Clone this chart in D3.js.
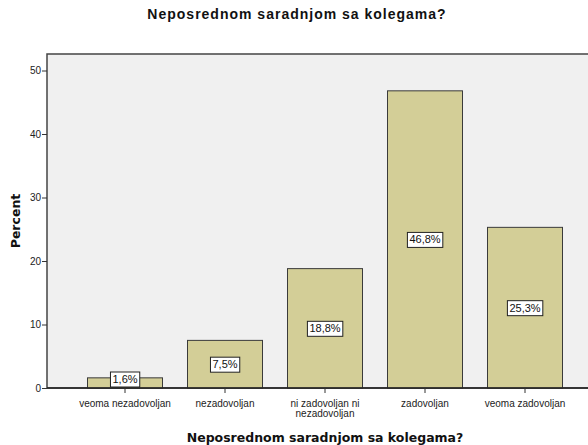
<!DOCTYPE html>
<html lang="sr">
  <head>
    <meta charset="UTF-8" />
    <title>Neposrednom saradnjom sa kolegama?</title>
    <script src="https://d3js.org/d3.v7.min.js"></script>
    <style>
      body {
        margin: 0;
        background: #fff;
        font-family: Arial, "Liberation Sans", sans-serif;
      }
      svg {
        display: block;
      }
    </style>
  </head>
  <body>
    <svg width="588" height="445"></svg>
    <script>
      const categories = [
        ["veoma nezadovoljan"],
        ["nezadovoljan"],
        ["ni zadovoljan ni", "nezadovoljan"],
        ["zadovoljan"],
        ["veoma zadovoljan"],
      ];
      const percents = [1.6, 7.5, 18.8, 46.8, 25.3];
      const yTicks = [0, 10, 20, 30, 40, 50];

      const data = categories.map((c, i) => ({ key: i, lines: c, value: percents[i] }));

      const svg = d3.select("svg");

      // plot frame; right side runs past the window edge like the original
      const plotLeft = 47,
        plotRight = 603,
        plotTop = 54,
        plotBottom = 388;

      const x = d3
        .scaleBand()
        .domain(data.map((d) => d.key))
        .range([plotLeft + 28, plotRight - 28])
        .paddingInner(0.25)
        .paddingOuter(0.125);

      const y = d3.scaleLinear().domain([0, 52.6]).range([plotBottom, plotTop]);

      // background
      svg
        .append("rect")
        .attr("x", plotLeft)
        .attr("y", plotTop)
        .attr("width", plotRight - plotLeft)
        .attr("height", plotBottom - plotTop)
        .attr("fill", "#f0f0f0")
        .attr("stroke", "#444")
        .attr("stroke-width", 1.5);

      // bars
      svg
        .selectAll(".bar")
        .data(data)
        .enter()
        .append("rect")
        .attr("class", "bar")
        .attr("x", (d) => x(d.key))
        .attr("y", (d) => y(d.value))
        .attr("width", x.bandwidth())
        .attr("height", (d) => plotBottom - y(d.value))
        .attr("fill", "#d3ce97")
        .attr("stroke", "#3a3a3a")
        .attr("stroke-width", 1);

      // value labels
      const fmt = (v) => v.toFixed(1).replace(".", ",") + "%";
      const lab = svg
        .selectAll(".lab")
        .data(data)
        .enter()
        .append("g")
        .attr("class", "lab")
        .attr("transform", (d) => {
          let cy = (y(d.value) + plotBottom) / 2;
          cy = Math.min(cy, plotBottom - 9);
          return `translate(${x(d.key) + x.bandwidth() / 2},${cy})`;
        });

      lab
        .append("text")
        .attr("text-anchor", "middle")
        .attr("dy", "0.36em")
        .attr("font-size", 11)
        .attr("fill", "#111")
        .text((d) => fmt(d.value));

      lab.each(function () {
        const g = d3.select(this);
        const bb = g.select("text").node().getBBox();
        g.insert("rect", "text")
          .attr("x", bb.x - 2)
          .attr("y", -7)
          .attr("width", bb.width + 4)
          .attr("height", 15)
          .attr("fill", "#fff")
          .attr("stroke", "#222")
          .attr("stroke-width", 1);
      });

      // y axis
      const yAxis = svg
        .append("g")
        .attr("transform", `translate(${plotLeft},0)`)
        .call(d3.axisLeft(y).tickValues(yTicks).tickSize(5).tickSizeOuter(0));
      yAxis.select(".domain").remove();
      yAxis.selectAll("line").attr("stroke", "#333");
      yAxis
        .selectAll("text")
        .attr("font-family", "Arial, 'Liberation Sans', sans-serif")
        .attr("font-size", 10)
        .attr("fill", "#222")
        .attr("x", -6);

      // x axis
      const xAxis = svg
        .append("g")
        .attr("transform", `translate(0,${plotBottom})`)
        .call(d3.axisBottom(x).tickSize(5).tickSizeOuter(0).tickFormat(""));
      xAxis
        .select(".domain")
        .attr("d", `M${plotLeft},0H${plotRight}`)
        .attr("stroke", "#222")
        .attr("stroke-width", 1.5);
      xAxis.selectAll("line").attr("stroke", "#333");

      xAxis
        .selectAll(".tick")
        .append("text")
        .attr("fill", "#222")
        .attr("font-size", 10)
        .attr("text-anchor", "middle")
        .attr("font-family", "Arial, 'Liberation Sans', sans-serif")
        .selectAll("tspan")
        .data((k) => data[k].lines)
        .enter()
        .append("tspan")
        .attr("x", 0)
        .attr("y", (d, i) => 19 + i * 10)
        .text((d) => d);

      // titles
      svg
        .append("text")
        .attr("x", 297)
        .attr("y", 19)
        .attr("text-anchor", "middle")
        .attr("font-weight", "bold")
        .attr("font-size", 14)
        .attr("letter-spacing", 1)
        .attr("fill", "#111")
        .text("Neposrednom saradnjom sa kolegama?");

      svg
        .append("text")
        .attr("x", 325)
        .attr("y", 442)
        .attr("text-anchor", "middle")
        .attr("font-weight", "bold")
        .attr("font-size", 12.5)
        .attr("font-family", "Verdana, 'DejaVu Sans', sans-serif")
        .attr("fill", "#111")
        .text("Neposrednom saradnjom sa kolegama?");

      svg
        .append("text")
        .attr("transform", "translate(20,221) rotate(-90)")
        .attr("text-anchor", "middle")
        .attr("font-weight", "bold")
        .attr("font-size", 12.5)
        .attr("font-family", "Verdana, 'DejaVu Sans', sans-serif")
        .attr("fill", "#111")
        .text("Percent");
    </script>
  </body>
</html>
